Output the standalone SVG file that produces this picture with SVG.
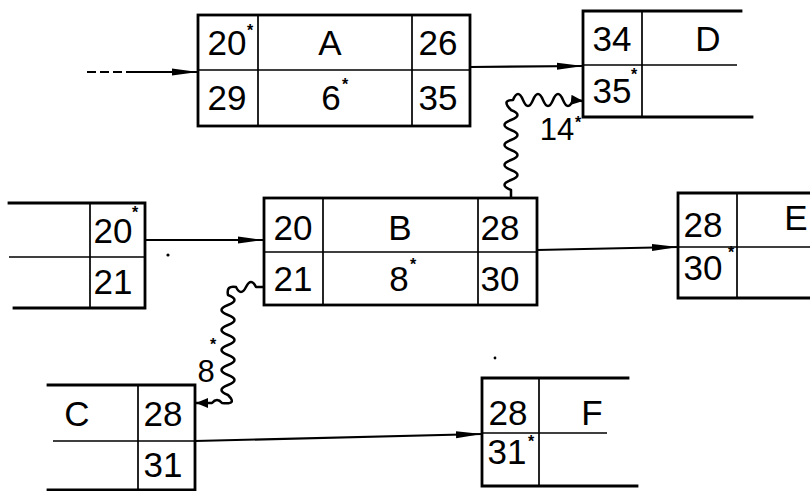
<svg xmlns="http://www.w3.org/2000/svg" width="810" height="491" viewBox="0 0 810 491">
<style>
.o{fill:none;stroke:#000;stroke-width:2.8;stroke-linecap:square}
.i{fill:none;stroke:#000;stroke-width:1.7}
.c{fill:none;stroke:#000;stroke-width:2.2}
.w{fill:none;stroke:#000;stroke-width:2.5;stroke-linejoin:round}
text{font-family:"Liberation Sans",Arial,sans-serif;font-size:35px;fill:#000;text-anchor:middle}
.s{font-size:16px;font-weight:bold;text-anchor:start}
.l{font-size:31px}
</style>
<defs>
<marker id="ah" markerUnits="userSpaceOnUse" markerWidth="26" markerHeight="9" refX="26" refY="4.5" orient="auto" viewBox="0 0 26 9"><path d="M0,1 L26,4.5 L0,8 Z" fill="#000"/></marker>
<marker id="sh" markerUnits="userSpaceOnUse" markerWidth="12" markerHeight="10" refX="12" refY="5" orient="auto" viewBox="0 0 12 10"><path d="M0,0 L12,5 L0,10 Z" fill="#000"/></marker>
</defs>
<rect width="810" height="491" fill="#fff"/>
<g id="connectors">
<path class="c" d="M87,72 L130,72" stroke-dasharray="9,4"/>
<path class="c" d="M130,72 L198,72" marker-end="url(#ah)"/>
<path class="c" d="M470,67 L583,66" marker-end="url(#ah)"/>
<path class="c" d="M145,240 L264,240" marker-end="url(#ah)"/>
<path class="c" d="M537,250 L678,247" marker-end="url(#ah)"/>
<path class="c" d="M195,441 L482,434" marker-end="url(#ah)"/>
<path class="w" d="M511,198 L511,190 q-13,-5 0,-10 t0,-10 t0,-10 t0,-10 t0,-10 t0,-10 t0,-10 t0,-10 q-10,-10 2,-10 q5,-12 10,0 t10,0 t10,0 t10,0 t10,0 t10,0 L583,101" marker-end="url(#sh)"/>
<path class="w" d="M264,287 L256,287 q-5,-10 -10,0 t-10,0 q-10,-2 -8,8 q13,5 0,10 t0,10 t0,10 t0,10 t0,10 t0,10 t0,10 t0,10 t0,10 t0,10 q10,10 -6,8 q-5,-6 -10,0 L196,403" marker-end="url(#sh)"/>
<text x="557" y="140" class="l">14</text><text x="575" y="128" class="s">*</text>
<text x="206" y="382" class="l">8</text><text x="210" y="350" class="s">*</text>
</g>
<g id="nodeA">
<rect class="o" x="198" y="15" width="272" height="111"/>
<path class="i" d="M198,70 H470 M258,15 V126 M412,15 V126"/>
<text x="227" y="55">20</text><text x="247" y="36" class="s">*</text>
<text x="330" y="55">A</text>
<text x="438" y="55">26</text>
<text x="227" y="110">29</text>
<text x="331" y="110">6</text><text x="342" y="90" class="s">*</text>
<text x="438" y="110">35</text>
</g>
<g id="nodeD">
<path class="o" d="M741,11 H583 V117 H752"/>
<path class="i" d="M583,65 H737 M642,11 V117"/>
<text x="612" y="51">34</text>
<text x="708" y="51">D</text>
<text x="612" y="103">35</text><text x="631" y="80" class="s">*</text>
</g>
<g id="nodeP">
<path class="o" d="M9,203 H145 V308 H14"/>
<path class="i" d="M9,257 H145 M90,203 V308"/>
<text x="113" y="243">20</text><text x="132" y="218" class="s">*</text>
<text x="113" y="294">21</text>
<circle cx="168" cy="255" r="1.6"/>
</g>
<g id="nodeB">
<rect class="o" x="264" y="198" width="273" height="107"/>
<path class="i" d="M264,252 H537 M323,198 V305 M478,198 V305"/>
<text x="293" y="240">20</text>
<text x="400" y="240">B</text>
<text x="500" y="240">28</text>
<text x="293" y="291">21</text>
<text x="399" y="291">8</text><text x="410" y="270" class="s">*</text>
<text x="500" y="291">30</text>
</g>
<g id="nodeE">
<path class="o" d="M810,193 H678 V298 H810"/>
<path class="i" d="M678,247 H810 M737,193 V298"/>
<text x="703" y="237">28</text>
<text x="796" y="230">E</text>
<text x="703" y="280">30</text><text x="728" y="258" class="s">*</text>
</g>
<g id="nodeC">
<path class="o" d="M48,385 H195 V490 H48"/>
<path class="i" d="M53,441 H195 M138,385 V490"/>
<text x="77" y="426">C</text>
<text x="163" y="426">28</text>
<text x="163" y="477">31</text>
</g>
<g id="nodeF">
<path class="o" d="M628,378 H482 V486 H637"/>
<path class="i" d="M482,433 H607 M539,378 V486"/>
<text x="508" y="425">28</text>
<text x="592" y="425">F</text>
<text x="507" y="464">31</text><text x="528" y="447" class="s">*</text>
<circle cx="495" cy="358" r="1.4"/>
</g>
</svg>
